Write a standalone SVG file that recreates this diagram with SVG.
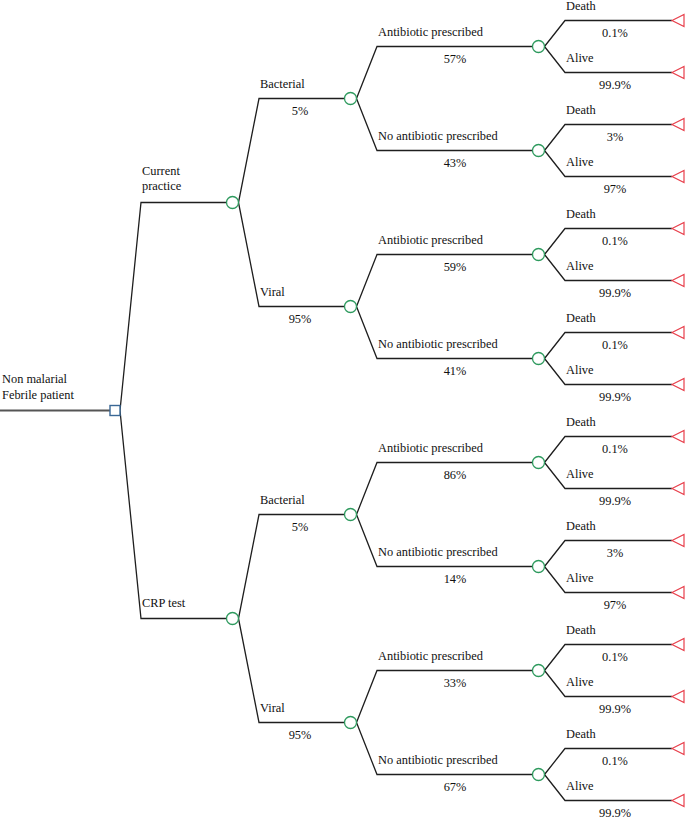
<svg xmlns="http://www.w3.org/2000/svg" width="685" height="818" viewBox="0 0 685 818">
<style>
text{font-family:"Liberation Serif","Times New Roman",serif;font-size:12.4px;fill:#111}
.c{text-anchor:middle}
.ln{fill:none;stroke:#1e1e1e;stroke-width:1.3}
.root{fill:none;stroke:#555;stroke-width:2}
.dec{fill:#fff;stroke:#3a6896;stroke-width:1.4}
.ch{fill:#fff;stroke:#2e9a5e;stroke-width:1.3}
.term{fill:#fff;stroke:#e8404c;stroke-width:1.2}
</style>
<rect width="685" height="818" fill="#fff"/>
<g id="connectors">
<path class="root" d="M0,410.5 L110,410.5"/>
<path class="ln" d="M120,410.5 L141,202.5 L226.5,202.5 M120,410.5 L141,618.5 L226.5,618.5"/>
<path class="ln" d="M238.5,202.5 L259,98.5 L344.5,98.5 M238.5,202.5 L259,306.5 L344.5,306.5"/>
<path class="ln" d="M238.5,618.5 L259,514.5 L344.5,514.5 M238.5,618.5 L259,722.5 L344.5,722.5"/>
<path class="ln" d="M356.5,98.5 L377,46.5 L532.5,46.5 M356.5,98.5 L377,150.5 L532.5,150.5"/>
<path class="ln" d="M356.5,306.5 L377,254.5 L532.5,254.5 M356.5,306.5 L377,358.5 L532.5,358.5"/>
<path class="ln" d="M356.5,514.5 L377,462.5 L532.5,462.5 M356.5,514.5 L377,566.5 L532.5,566.5"/>
<path class="ln" d="M356.5,722.5 L377,670.5 L532.5,670.5 M356.5,722.5 L377,774.5 L532.5,774.5"/>
<path class="ln" d="M544.5,46.5 L565,20.5 L672,20.5 M544.5,46.5 L565,72.5 L672,72.5"/>
<path class="ln" d="M544.5,150.5 L565,124.5 L672,124.5 M544.5,150.5 L565,176.5 L672,176.5"/>
<path class="ln" d="M544.5,254.5 L565,228.5 L672,228.5 M544.5,254.5 L565,280.5 L672,280.5"/>
<path class="ln" d="M544.5,358.5 L565,332.5 L672,332.5 M544.5,358.5 L565,384.5 L672,384.5"/>
<path class="ln" d="M544.5,462.5 L565,436.5 L672,436.5 M544.5,462.5 L565,488.5 L672,488.5"/>
<path class="ln" d="M544.5,566.5 L565,540.5 L672,540.5 M544.5,566.5 L565,592.5 L672,592.5"/>
<path class="ln" d="M544.5,670.5 L565,644.5 L672,644.5 M544.5,670.5 L565,696.5 L672,696.5"/>
<path class="ln" d="M544.5,774.5 L565,748.5 L672,748.5 M544.5,774.5 L565,800.5 L672,800.5"/>
</g>
<g id="labels">
<text x="2" y="383">Non malarial</text>
<text x="2" y="399">Febrile patient</text>
<text x="142" y="174.5">Current</text>
<text x="142" y="190">practice</text>
<text x="142" y="607">CRP test</text>
<text x="260" y="87.5">Bacterial</text><text class="c" x="300" y="114.5">5%</text>
<text x="260" y="295.5">Viral</text><text class="c" x="300" y="322.5">95%</text>
<text x="260" y="503.5">Bacterial</text><text class="c" x="300" y="530.5">5%</text>
<text x="260" y="711.5">Viral</text><text class="c" x="300" y="738.5">95%</text>
<text x="378" y="35.5">Antibiotic prescribed</text><text class="c" x="455" y="62.5">57%</text>
<text x="378" y="139.5">No antibiotic prescribed</text><text class="c" x="455" y="166.5">43%</text>
<text x="378" y="243.5">Antibiotic prescribed</text><text class="c" x="455" y="270.5">59%</text>
<text x="378" y="347.5">No antibiotic prescribed</text><text class="c" x="455" y="374.5">41%</text>
<text x="378" y="451.5">Antibiotic prescribed</text><text class="c" x="455" y="478.5">86%</text>
<text x="378" y="555.5">No antibiotic prescribed</text><text class="c" x="455" y="582.5">14%</text>
<text x="378" y="659.5">Antibiotic prescribed</text><text class="c" x="455" y="686.5">33%</text>
<text x="378" y="763.5">No antibiotic prescribed</text><text class="c" x="455" y="790.5">67%</text>
<text x="566" y="9.5">Death</text><text class="c" x="615" y="36.5">0.1%</text>
<text x="566" y="61.5">Alive</text><text class="c" x="615" y="88.5">99.9%</text>
<text x="566" y="113.5">Death</text><text class="c" x="615" y="140.5">3%</text>
<text x="566" y="165.5">Alive</text><text class="c" x="615" y="192.5">97%</text>
<text x="566" y="217.5">Death</text><text class="c" x="615" y="244.5">0.1%</text>
<text x="566" y="269.5">Alive</text><text class="c" x="615" y="296.5">99.9%</text>
<text x="566" y="321.5">Death</text><text class="c" x="615" y="348.5">0.1%</text>
<text x="566" y="373.5">Alive</text><text class="c" x="615" y="400.5">99.9%</text>
<text x="566" y="425.5">Death</text><text class="c" x="615" y="452.5">0.1%</text>
<text x="566" y="477.5">Alive</text><text class="c" x="615" y="504.5">99.9%</text>
<text x="566" y="529.5">Death</text><text class="c" x="615" y="556.5">3%</text>
<text x="566" y="581.5">Alive</text><text class="c" x="615" y="608.5">97%</text>
<text x="566" y="633.5">Death</text><text class="c" x="615" y="660.5">0.1%</text>
<text x="566" y="685.5">Alive</text><text class="c" x="615" y="712.5">99.9%</text>
<text x="566" y="737.5">Death</text><text class="c" x="615" y="764.5">0.1%</text>
<text x="566" y="789.5">Alive</text><text class="c" x="615" y="816.5">99.9%</text>
</g>
<g id="decision"><rect class="dec" x="110" y="405.5" width="10" height="10"/></g>
<g id="chance-current-practice"><circle class="ch" cx="232.5" cy="202.5" r="6"/></g>
<g id="chance-crp-test"><circle class="ch" cx="232.5" cy="618.5" r="6"/></g>
<g id="chance-cp-bacterial"><circle class="ch" cx="350.5" cy="98.5" r="6"/></g>
<g id="chance-cp-viral"><circle class="ch" cx="350.5" cy="306.5" r="6"/></g>
<g id="chance-crp-bacterial"><circle class="ch" cx="350.5" cy="514.5" r="6"/></g>
<g id="chance-crp-viral"><circle class="ch" cx="350.5" cy="722.5" r="6"/></g>
<g id="chance-cp-bac-ab"><circle class="ch" cx="538.5" cy="46.5" r="6"/></g>
<g id="chance-cp-bac-noab"><circle class="ch" cx="538.5" cy="150.5" r="6"/></g>
<g id="chance-cp-vir-ab"><circle class="ch" cx="538.5" cy="254.5" r="6"/></g>
<g id="chance-cp-vir-noab"><circle class="ch" cx="538.5" cy="358.5" r="6"/></g>
<g id="chance-crp-bac-ab"><circle class="ch" cx="538.5" cy="462.5" r="6"/></g>
<g id="chance-crp-bac-noab"><circle class="ch" cx="538.5" cy="566.5" r="6"/></g>
<g id="chance-crp-vir-ab"><circle class="ch" cx="538.5" cy="670.5" r="6"/></g>
<g id="chance-crp-vir-noab"><circle class="ch" cx="538.5" cy="774.5" r="6"/></g>
<g id="term-1"><polygon class="term" points="672,20.5 684,14.5 684,26.5"/></g>
<g id="term-2"><polygon class="term" points="672,72.5 684,66.5 684,78.5"/></g>
<g id="term-3"><polygon class="term" points="672,124.5 684,118.5 684,130.5"/></g>
<g id="term-4"><polygon class="term" points="672,176.5 684,170.5 684,182.5"/></g>
<g id="term-5"><polygon class="term" points="672,228.5 684,222.5 684,234.5"/></g>
<g id="term-6"><polygon class="term" points="672,280.5 684,274.5 684,286.5"/></g>
<g id="term-7"><polygon class="term" points="672,332.5 684,326.5 684,338.5"/></g>
<g id="term-8"><polygon class="term" points="672,384.5 684,378.5 684,390.5"/></g>
<g id="term-9"><polygon class="term" points="672,436.5 684,430.5 684,442.5"/></g>
<g id="term-10"><polygon class="term" points="672,488.5 684,482.5 684,494.5"/></g>
<g id="term-11"><polygon class="term" points="672,540.5 684,534.5 684,546.5"/></g>
<g id="term-12"><polygon class="term" points="672,592.5 684,586.5 684,598.5"/></g>
<g id="term-13"><polygon class="term" points="672,644.5 684,638.5 684,650.5"/></g>
<g id="term-14"><polygon class="term" points="672,696.5 684,690.5 684,702.5"/></g>
<g id="term-15"><polygon class="term" points="672,748.5 684,742.5 684,754.5"/></g>
<g id="term-16"><polygon class="term" points="672,800.5 684,794.5 684,806.5"/></g>
</svg>
